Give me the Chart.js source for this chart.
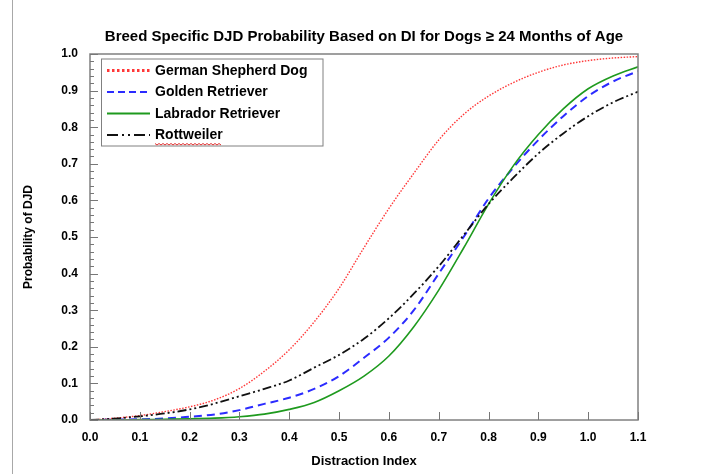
<!DOCTYPE html>
<html>
<head>
<meta charset="utf-8">
<script src="https://cdn.jsdelivr.net/npm/chart.js@4/dist/chart.umd.min.js"></script>
<style>
  html, body { margin: 0; padding: 0; background: #fff; }
  #wrap { width: 701px; height: 474px; position: relative; }
  canvas { display: block; }
</style>
</head>
<body>
<div id="wrap"><canvas id="c" width="701" height="474"></canvas></div>
<script>
// ---- Data ----
const distractionIndex = [0.00, 0.05, 0.10, 0.15, 0.20, 0.25, 0.30, 0.35, 0.40, 0.45, 0.50, 0.55,
                          0.60, 0.65, 0.70, 0.75, 0.80, 0.85, 0.90, 0.95, 1.00, 1.05, 1.10];
const germanShepherd = [0.000, 0.005, 0.012, 0.023, 0.036, 0.055, 0.086, 0.133, 0.192, 0.268, 0.360, 0.471,
                        0.578, 0.674, 0.765, 0.835, 0.885, 0.922, 0.950, 0.970, 0.982, 0.989, 0.993];
const goldenRetriever = [0.000, 0.001, 0.002, 0.004, 0.009, 0.015, 0.027, 0.044, 0.061, 0.085, 0.120, 0.170,
                         0.225, 0.300, 0.400, 0.500, 0.605, 0.690, 0.765, 0.830, 0.885, 0.925, 0.953];
const labradorRetriever = [0.000, 0.000, 0.001, 0.002, 0.003, 0.005, 0.009, 0.016, 0.029, 0.048, 0.080, 0.120,
                           0.175, 0.255, 0.355, 0.470, 0.590, 0.695, 0.780, 0.850, 0.905, 0.940, 0.965];
const rottweiler = [0.000, 0.004, 0.010, 0.018, 0.029, 0.045, 0.065, 0.085, 0.108, 0.143, 0.178, 0.222,
                    0.278, 0.345, 0.420, 0.505, 0.590, 0.662, 0.728, 0.783, 0.830, 0.868, 0.897];
const seriesNames = ['German Shepherd Dog', 'Golden Retriever', 'Labrador Retriever', 'Rottweiler'];
const xTickLabels = ['0.0','0.1','0.2','0.3','0.4','0.5','0.6','0.7','0.8','0.9','1.0','1.1'];
const yTickLabels = ['0.0','0.1','0.2','0.3','0.4','0.5','0.6','0.7','0.8','0.9','1.0'];
const chartTitle = 'Breed Specific DJD Probability Based on DI for Dogs \u2265 24 Months of Age';
const xTitle = 'Distraction Index';
const yTitle = 'Probability of DJD';

const FONT = '"Liberation Sans", Arial, Helvetica, sans-serif';

function pts(arr) { return distractionIndex.map((x, i) => ({ x: x, y: arr[i] })); }

// style info for datasets (also used by custom legend)
const styles = [
  { color: 'rgba(255,20,20,0.85)', width: 1.4, dash: [1.5, 1.5], legendWidth: 3, legendDash: [2.5, 2.5] },
  { color: '#2b2bff', width: 2, dash: [8, 5], legendWidth: 2, legendDash: [7, 4] },
  { color: '#1e9a1e', width: 1.6, dash: [], legendWidth: 2, legendDash: [] },
  { color: '#111111', width: 1.8, dash: [9, 3, 2, 3, 2, 3], legendWidth: 2, legendDash: [11, 4, 2, 4, 2, 4] }
];
const seriesData = [germanShepherd, goldenRetriever, labradorRetriever, rottweiler];

const datasets = seriesNames.map((name, i) => ({
  label: name,
  data: pts(seriesData[i]),
  borderColor: styles[i].color,
  borderWidth: styles[i].width,
  borderDash: styles[i].dash,
  pointRadius: 0,
  fill: false,
  cubicInterpolationMode: 'monotone',
  order: 4 - i
}));

// ---- Plugins ----
const framePlugin = {
  id: 'frame',
  beforeDraw(chart) {
    const ctx = chart.ctx;
    ctx.save();
    ctx.fillStyle = '#fff';
    ctx.fillRect(0, 0, chart.width, chart.height);
    ctx.strokeStyle = '#a8a8a8';
    ctx.lineWidth = 1;
    ctx.beginPath();
    ctx.moveTo(12.5, 0); ctx.lineTo(12.5, chart.height);
    ctx.stroke();
    ctx.restore();
  },
  afterDatasetsDraw(chart) {
    const ctx = chart.ctx;
    const a = chart.chartArea;
    const xs = chart.scales.x, ys = chart.scales.y;
    ctx.save();
    // plot border
    ctx.strokeStyle = '#808080';
    ctx.lineWidth = 1.5;
    ctx.setLineDash([]);
    ctx.strokeRect(a.left, a.top, a.right - a.left, a.bottom - a.top);
    // inward ticks
    ctx.lineWidth = 1;
    ctx.strokeStyle = '#777';
    ctx.beginPath();
    xTickLabels.forEach(t => {
      const px = Math.round(xs.getPixelForValue(parseFloat(t))) + 0.5;
      ctx.moveTo(px, a.bottom); ctx.lineTo(px, a.bottom - 8);
    });
    for (let k = 0; k <= 50; k++) {
      const v = k * 0.02;
      const py = Math.round(ys.getPixelForValue(v)) + 0.5;
      const len = (k % 5 === 0) ? 8 : 4;
      ctx.moveTo(a.left, py); ctx.lineTo(a.left + len, py);
    }
    ctx.stroke();
    ctx.restore();
  }
};

const legendPlugin = {
  id: 'boxLegend',
  afterDraw(chart) {
    const ctx = chart.ctx;
    const box = { x: 101, y: 58.5, w: 221.5, h: 87 };
    ctx.save();
    ctx.fillStyle = '#fff';
    ctx.fillRect(box.x, box.y, box.w, box.h);
    ctx.strokeStyle = '#808080';
    ctx.lineWidth = 1;
    ctx.setLineDash([]);
    ctx.strokeRect(box.x + 0.5, box.y + 0.5, box.w, box.h);
    ctx.font = 'bold 14px ' + FONT;
    ctx.textBaseline = 'middle';
    ctx.textAlign = 'left';
    chart.data.datasets.forEach((ds, i) => {
      const y = 70.5 + i * 21.5;
      ctx.strokeStyle = styles[i].color;
      ctx.lineWidth = styles[i].legendWidth;
      ctx.setLineDash(styles[i].legendDash);
      ctx.beginPath();
      ctx.moveTo(107, y); ctx.lineTo(150, y);
      ctx.stroke();
      ctx.setLineDash([]);
      ctx.fillStyle = '#000';
      ctx.fillText(ds.label, 155, y + 0.5);
      if (i === 3) {
        // spell-check style squiggle under the last entry
        const w = ctx.measureText(ds.label).width;
        ctx.strokeStyle = '#e03030';
        ctx.lineWidth = 1;
        ctx.beginPath();
        for (let xx = 155, k = 0; xx <= 155 + w; xx += 2, k++) {
          const yy = y + 9 + (k % 2 ? 1 : -0.5);
          if (k === 0) ctx.moveTo(xx, yy); else ctx.lineTo(xx, yy);
        }
        ctx.stroke();
      }
    });
    ctx.restore();
  }
};

new Chart(document.getElementById('c'), {
  type: 'line',
  data: { datasets: datasets },
  options: {
    responsive: false,
    animation: false,
    devicePixelRatio: 1,
    layout: { padding: { left: 0, right: 63, top: 0, bottom: 0 } },
    plugins: {
      legend: { display: false },
      tooltip: { enabled: false },
      title: {
        display: true,
        text: chartTitle,
        fullSize: false,
        color: '#000',
        font: { family: FONT, size: 15, weight: 'bold' },
        padding: { top: 28, bottom: 8 }
      }
    },
    scales: {
      x: {
        type: 'linear',
        min: 0, max: 1.1,
        afterFit(s) { s.height = 54; },
        afterBuildTicks(s) { s.ticks = xTickLabels.map(t => ({ value: parseFloat(t) })); },
        ticks: {
          callback: (v) => Number(v).toFixed(1),
          color: '#000',
          font: { family: FONT, size: 12, weight: 'bold' },
          padding: 10,
          maxRotation: 0,
          autoSkip: false
        },
        grid: { drawOnChartArea: false, drawTicks: false },
        border: { display: false },
        title: {
          display: true, text: xTitle, color: '#000',
          font: { family: FONT, size: 13, weight: 'bold' },
          padding: { top: 2, bottom: 5 }
        }
      },
      y: {
        min: 0, max: 1,
        afterFit(s) { s.width = 90; },
        afterBuildTicks(s) { s.ticks = yTickLabels.map(t => ({ value: parseFloat(t) })); },
        ticks: {
          callback: (v) => Number(v).toFixed(1),
          color: '#000',
          font: { family: FONT, size: 12, weight: 'bold' },
          padding: 12,
          autoSkip: false
        },
        grid: { drawOnChartArea: false, drawTicks: false },
        border: { display: false },
        title: {
          display: true, text: yTitle, color: '#000',
          font: { family: FONT, size: 12, weight: 'bold' },
          padding: { top: 21, bottom: 0 }
        }
      }
    }
  },
  plugins: [framePlugin, legendPlugin]
});
</script>
</body>
</html>
